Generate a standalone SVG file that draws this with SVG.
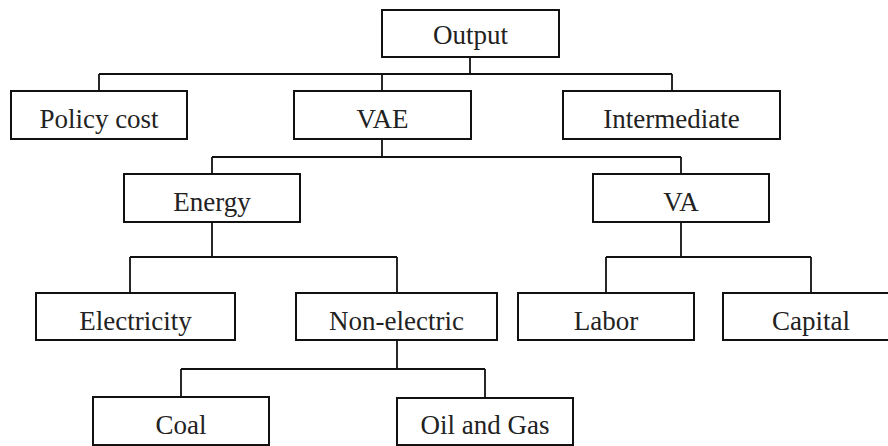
<svg xmlns="http://www.w3.org/2000/svg" width="888" height="446" viewBox="0 0 888 446">
<style>
.box{fill:#fff;stroke:#111;stroke-width:2}
.lbl{font-family:"Liberation Serif","Times New Roman",serif;font-size:27px;fill:#222;text-anchor:middle}
.con{fill:none;stroke:#111;stroke-width:1.8}
</style>
<rect width="888" height="446" fill="#fff"/>
<g id="connectors">
<path class="con" d="M470 57V74M99 74H672M99 74V91M382 74V91M672 74V91"/>
<path class="con" d="M382 139V157M212 157H681M212 157V174M681 157V174"/>
<path class="con" d="M212 222V257M130 257H397M130 257V293M397 257V293"/>
<path class="con" d="M681 222V257M606 257H811M606 257V293M811 257V293"/>
<path class="con" d="M397 340V369M181 369H485M181 369V397M485 369V398"/>
</g>
<g id="output"><rect class="box" x="382" y="10" width="177" height="47"/><text class="lbl" x="470.5" y="44">Output</text></g>
<g id="policy"><rect class="box" x="11" y="91" width="176" height="48"/><text class="lbl" x="99" y="128">Policy cost</text></g>
<g id="vae"><rect class="box" x="294" y="91" width="177" height="48"/><text class="lbl" x="382.5" y="128">VAE</text></g>
<g id="intermediate"><rect class="box" x="563" y="91" width="217" height="48"/><text class="lbl" x="671.5" y="128">Intermediate</text></g>
<g id="energy"><rect class="box" x="124" y="174" width="176" height="48"/><text class="lbl" x="212" y="211">Energy</text></g>
<g id="va"><rect class="box" x="593" y="174" width="176" height="48"/><text class="lbl" x="681" y="211">VA</text></g>
<g id="electricity"><rect class="box" x="36" y="293" width="199" height="47"/><text class="lbl" x="135.5" y="330">Electricity</text></g>
<g id="nonelectric"><rect class="box" x="296" y="293" width="201" height="47"/><text class="lbl" x="396.5" y="330">Non-electric</text></g>
<g id="labor"><rect class="box" x="518" y="293" width="176" height="47"/><text class="lbl" x="606" y="330">Labor</text></g>
<g id="capital"><rect class="box" x="723" y="293" width="176" height="47"/><text class="lbl" x="811" y="330">Capital</text></g>
<g id="coal"><rect class="box" x="93" y="397" width="176" height="48"/><text class="lbl" x="181" y="434">Coal</text></g>
<g id="oilgas"><rect class="box" x="397" y="398" width="176" height="47"/><text class="lbl" x="485" y="434">Oil and Gas</text></g>
</svg>
